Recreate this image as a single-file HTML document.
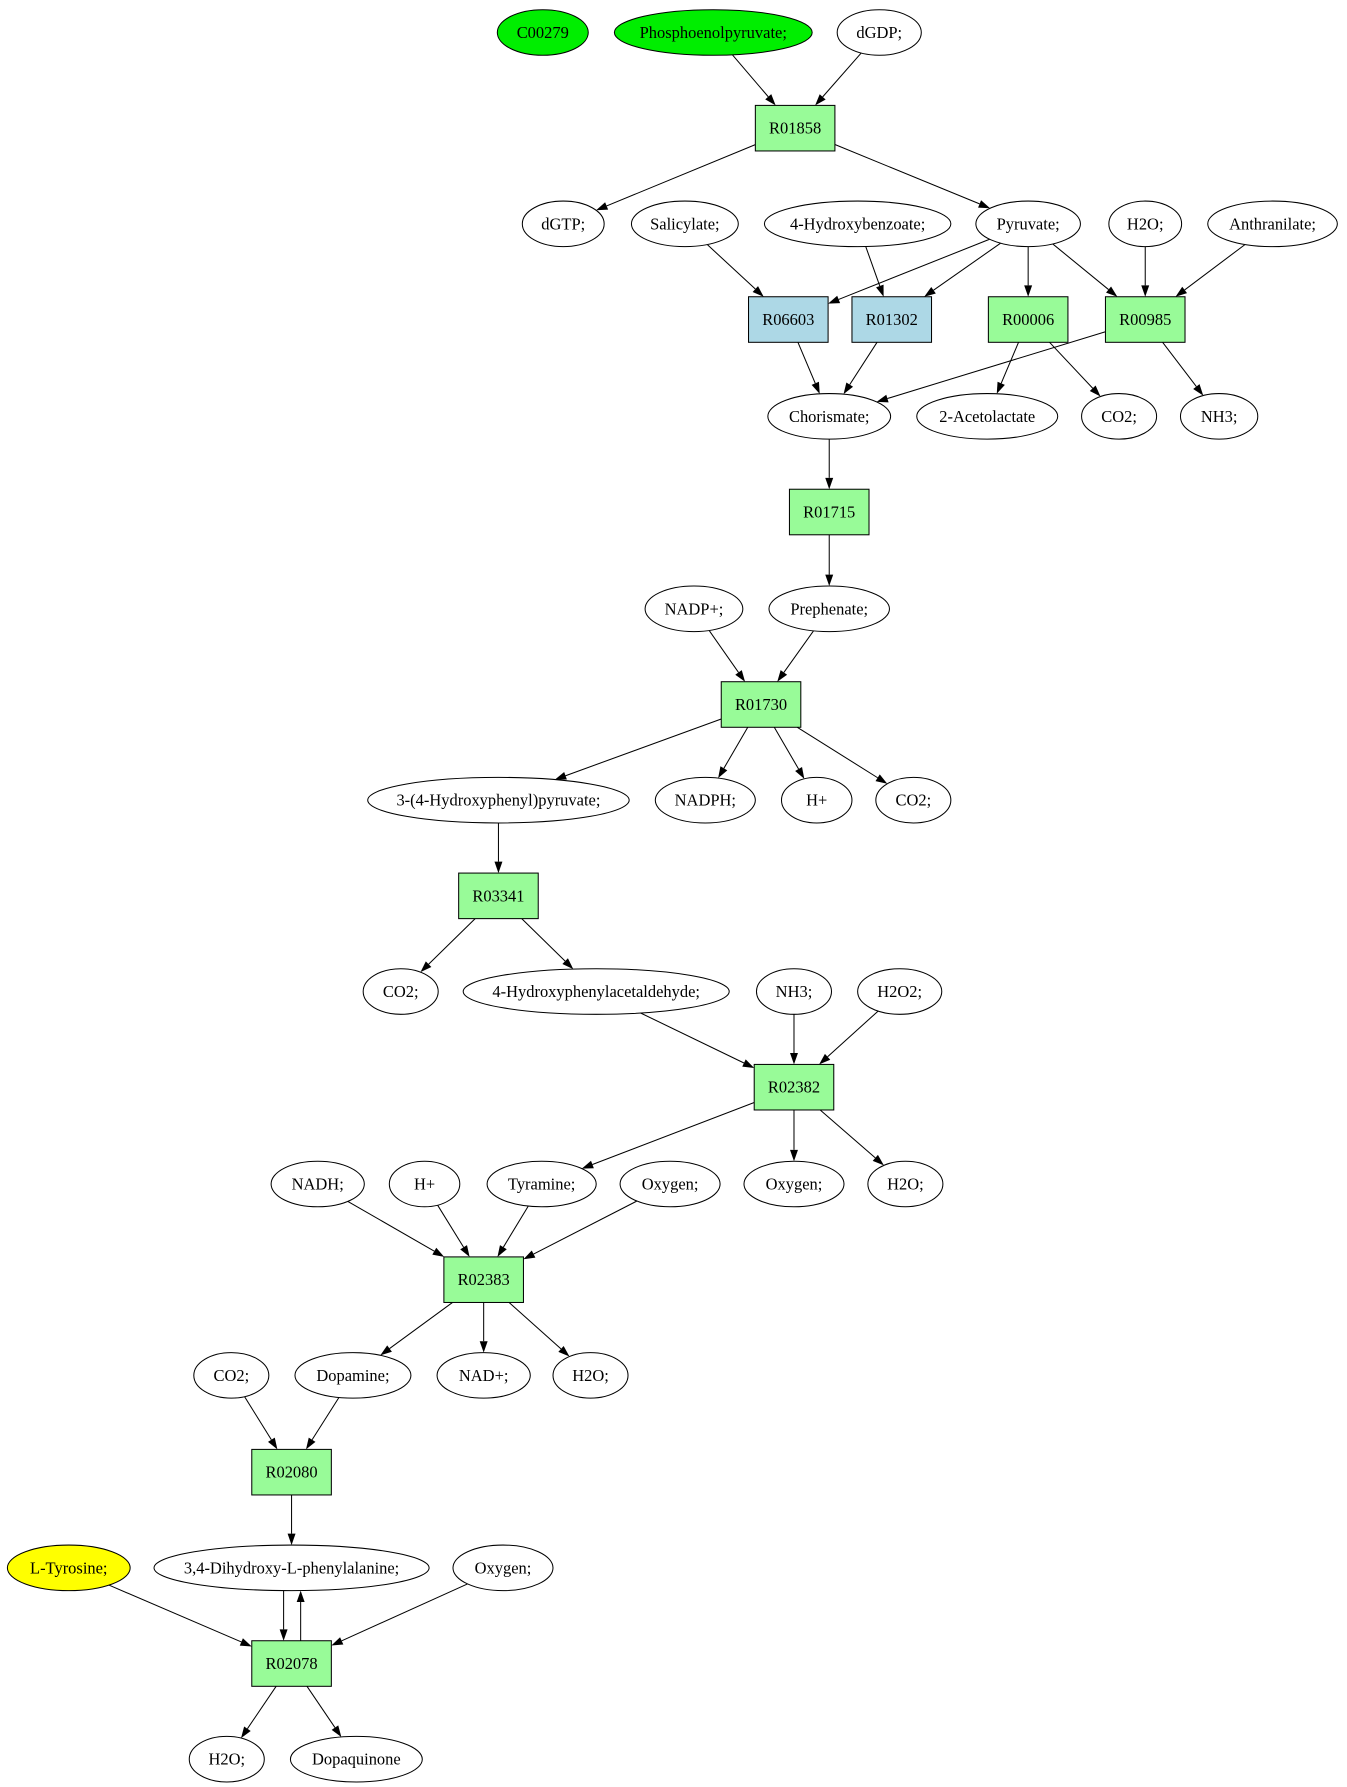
<!DOCTYPE html>
<html><head><meta charset="utf-8"><style>
html,body{margin:0;padding:0;background:#fff;}
svg{display:block;}
text{font-family:"Liberation Serif",serif;font-size:14.5px;text-anchor:middle;dominant-baseline:central;}
</style></head><body>
<svg width="1347" height="1787" viewBox="0 0 1185 1572" xmlns="http://www.w3.org/2000/svg"><g id="g" transform="translate(1.5,2.5) scale(1,1.002)"></g></svg>
<script>
const N={
c279:['e',476,26,40,'C00279','#00ee00'],
pep:['e',626,26,87,'Phosphoenolpyruvate;','#00ee00'],
dgdp:['e',772,26,37,'dGDP;'],
r1858:['b',698,110,0,'R01858','#98fb98'],
dgtp:['e',494,194,36,'dGTP;'],
sal:['e',601,194,47,'Salicylate;'],
hb:['e',753,194,82,'4-Hydroxybenzoate;'],
pyr:['e',903,194,46,'Pyruvate;'],
h2oa:['e',1006,194,32,'H2O;'],
anth:['e',1118,194,57,'Anthranilate;'],
r6603:['b',692,278,0,'R06603','#add8e6'],
r1302:['b',783,278,0,'R01302','#add8e6'],
r0006:['b',903,278,0,'R00006','#98fb98'],
r0985:['b',1006,278,0,'R00985','#98fb98'],
chor:['e',728,363,54,'Chorismate;'],
acl:['e',867,363,62,'2-Acetolactate'],
co2a:['e',983,363,33,'CO2;'],
nh3a:['e',1071,363,34,'NH3;'],
r1715:['b',728,447,0,'R01715','#98fb98'],
nadp:['e',609,532,43,'NADP+;'],
preph:['e',728,532,53,'Prephenate;'],
r1730:['b',668,616,0,'R01730','#98fb98'],
hpp:['e',437,700,115,'3-(4-Hydroxyphenyl)pyruvate;'],
nadph:['e',619,700,44,'NADPH;'],
hpa:['e',717,700,31,'H+'],
co2b:['e',802,700,33,'CO2;'],
r3341:['b',437,784,0,'R03341','#98fb98'],
co2c:['e',351,868,33,'CO2;'],
hpal:['e',523,868,117,'4-Hydroxyphenylacetaldehyde;'],
nh3b:['e',697,868,33,'NH3;'],
h2o2:['e',790,868,37,'H2O2;'],
r2382:['b',697,952,0,'R02382','#98fb98'],
nadh:['e',278,1037,41,'NADH;'],
hpb:['e',372,1037,31,'H+'],
tyr:['e',475,1037,48,'Tyramine;'],
oxa:['e',588,1037,44,'Oxygen;'],
oxb:['e',697,1037,44,'Oxygen;'],
h2ob:['e',795,1037,33,'H2O;'],
r2383:['b',424,1121,0,'R02383','#98fb98'],
co2d:['e',202,1205,33,'CO2;'],
dop:['e',309,1205,51,'Dopamine;'],
nad:['e',424,1205,41,'NAD+;'],
h2oc:['e',518,1205,33,'H2O;'],
r2080:['b',255,1290,0,'R02080','#98fb98'],
ltyr:['e',59,1374,54,'L-Tyrosine;','#ffff00'],
dopa:['e',255,1374,121,'3,4-Dihydroxy-L-phenylalanine;'],
oxc:['e',441,1374,44,'Oxygen;'],
r2078:['b',255,1458,0,'R02078','#98fb98'],
h2od:['e',198,1542,33,'H2O;'],
dq:['e',312,1542,58,'Dopaquinone']
};
const E=[['pep','r1858'],['dgdp','r1858'],['r1858','dgtp'],['r1858','pyr'],
['sal','r6603'],['pyr','r6603'],['hb','r1302'],['pyr','r1302'],['pyr','r0006'],['pyr','r0985'],['h2oa','r0985'],['anth','r0985'],
['r6603','chor'],['r1302','chor'],['r0985','chor'],['r0006','acl'],['r0006','co2a'],['r0985','nh3a'],
['chor','r1715'],['r1715','preph'],['nadp','r1730'],['preph','r1730'],
['r1730','hpp'],['r1730','nadph'],['r1730','hpa'],['r1730','co2b'],
['hpp','r3341'],['r3341','co2c'],['r3341','hpal'],
['hpal','r2382'],['nh3b','r2382'],['h2o2','r2382'],
['r2382','tyr'],['r2382','oxb'],['r2382','h2ob'],
['nadh','r2383'],['hpb','r2383'],['tyr','r2383'],['oxa','r2383'],
['r2383','dop'],['r2383','nad'],['r2383','h2oc'],
['co2d','r2080'],['dop','r2080'],['r2080','dopa'],
['ltyr','r2078'],['oxc','r2078'],['r2078','h2od'],['r2078','dq']];
const g=document.getElementById('g');let s='';
function clip(n,dx,dy){
 if(n[0]=='b'){const tx=Math.abs(dx)>1e-9?35/Math.abs(dx):1e9,ty=Math.abs(dy)>1e-9?20/Math.abs(dy):1e9;return Math.min(tx,ty);}
 const a=n[3],b=20;return 1/Math.sqrt(dx*dx/(a*a)+dy*dy/(b*b));}
function edge(x1,y1,x2,y2){
 const dx=x2-x1,dy=y2-y1,L=Math.hypot(dx,dy),ux=dx/L,uy=dy/L;
 const ex=x2,ey=y2,bx=ex-ux*10,by=ey-uy*10,px=-uy*3.5,py=ux*3.5;
 s+=`<line x1="${x1}" y1="${y1}" x2="${bx}" y2="${by}" stroke="#000" stroke-width="0.9"/>`;
 s+=`<polygon points="${ex},${ey} ${bx+px},${by+py} ${bx-px},${by-py}" fill="#000"/>`;}
for(const [a,b] of E){const A=N[a],B=N[b];const dx=B[1]-A[1],dy=B[2]-A[2],L=Math.hypot(dx,dy),ux=dx/L,uy=dy/L;
 const ta=clip(A,ux,uy),tb=clip(B,ux,uy);
 edge(A[1]+ux*ta,A[2]+uy*ta,B[1]-ux*tb,B[2]-uy*tb);}
edge(248,1394,248,1438);edge(263,1438,263,1394);
for(const k in N){const n=N[k];const f=n[5]||'#fff';
 if(n[0]=='e')s+=`<ellipse cx="${n[1]}" cy="${n[2]}" rx="${n[3]}" ry="20" fill="${f}" stroke="#000" stroke-width="0.9"/>`;
 else s+=`<rect x="${n[1]-35}" y="${n[2]-20}" width="70" height="40" fill="${f}" stroke="#000" stroke-width="0.9"/>`;
 s+=`<text x="${n[1]}" y="${n[2]}">${n[4]}</text>`;}
g.innerHTML=s;
</script>
</body></html>
